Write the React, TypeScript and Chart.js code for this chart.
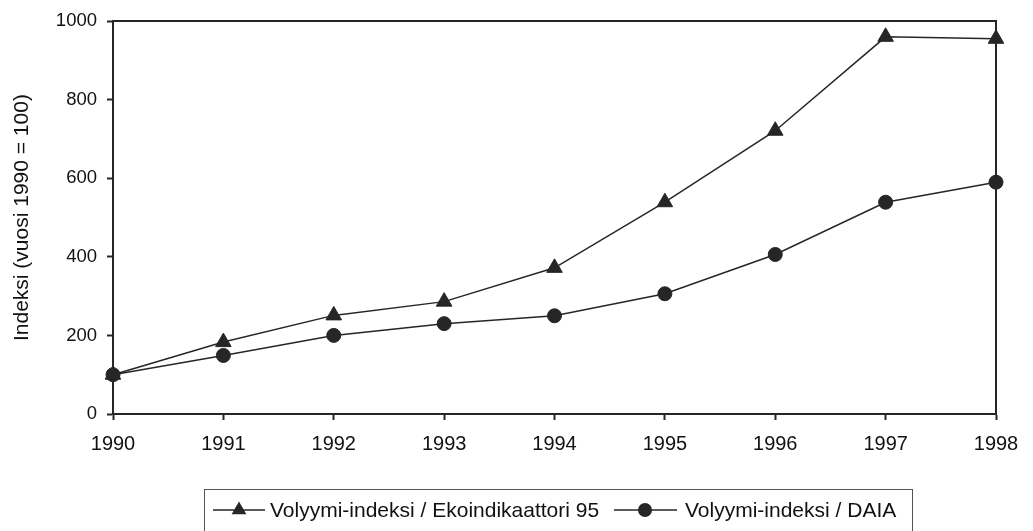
import React, { useEffect, useRef } from "react";
import { Chart, registerables } from "chart.js";

Chart.register(...registerables);

const years = ["1990", "1991", "1992", "1993", "1994", "1995", "1996", "1997", "1998"];
const ekoValues = [100, 183, 251, 286, 372, 539, 721, 960, 955];
const daiaValues = [100, 149, 200, 230, 250, 306, 406, 539, 590];
const ekoLabel = "Volyymi-indeksi / Ekoindikaattori 95";
const daiaLabel = "Volyymi-indeksi / DAIA";
const yTitle = "Indeksi (vuosi 1990 = 100)";

const FONT = "'Liberation Sans', Arial, sans-serif";
const INK = "#262626";

export default function App() {
  const ref = useRef<HTMLCanvasElement | null>(null);

  useEffect(() => {
    document.body.style.margin = "0";
    const canvas = ref.current;
    if (!canvas) return;

    const framePlugin = {
      id: "frame",
      afterDatasetsDraw(chart: any) {
        const { ctx, chartArea } = chart;
        ctx.save();
        ctx.strokeStyle = INK;
        ctx.lineWidth = 2;
        ctx.beginPath();
        ctx.moveTo(chartArea.left, chartArea.top);
        ctx.lineTo(chartArea.right, chartArea.top);
        ctx.lineTo(chartArea.right, chartArea.bottom);
        ctx.stroke();
        ctx.restore();
      },
    };

    const legendPlugin = {
      id: "customLegend",
      afterDraw(chart: any) {
        const ctx = chart.ctx as CanvasRenderingContext2D;
        ctx.save();
        ctx.strokeStyle = "#555";
        ctx.lineWidth = 1;
        ctx.strokeRect(204.5, 489.5, 708, 80);
        const cy = 510;
        ctx.strokeStyle = INK;
        ctx.fillStyle = INK;
        ctx.lineWidth = 1.5;
        // item 1
        ctx.beginPath();
        ctx.moveTo(213, cy);
        ctx.lineTo(265, cy);
        ctx.stroke();
        const r = 8.5;
        const tx = 239;
        const ty = cy;
        ctx.beginPath();
        ctx.moveTo(tx, ty - r);
        ctx.lineTo(tx - r * Math.sin(Math.PI / 3), ty + r / 2);
        ctx.lineTo(tx + r * Math.sin(Math.PI / 3), ty + r / 2);
        ctx.closePath();
        ctx.fill();
        // item 2
        ctx.beginPath();
        ctx.moveTo(614, cy);
        ctx.lineTo(677, cy);
        ctx.stroke();
        ctx.beginPath();
        ctx.arc(645, cy, 7, 0, Math.PI * 2);
        ctx.fill();
        ctx.font = `21px ${FONT}`;
        ctx.textBaseline = "middle";
        ctx.textAlign = "left";
        ctx.fillStyle = "#111";
        ctx.fillText(ekoLabel, 270, cy + 1);
        ctx.fillText(daiaLabel, 685, cy + 1);
        ctx.restore();
      },
    };

    const chart = new Chart(canvas, {
      type: "line",
      data: {
        labels: years,
        datasets: [
          {
            label: ekoLabel,
            data: ekoValues,
            borderColor: INK,
            backgroundColor: INK,
            borderWidth: 1.5,
            pointStyle: "triangle",
            pointRadius: 9,
            pointBorderWidth: 1,
            pointBackgroundColor: INK,
            pointBorderColor: INK,
            tension: 0,
          },
          {
            label: daiaLabel,
            data: daiaValues,
            borderColor: INK,
            backgroundColor: INK,
            borderWidth: 1.5,
            pointStyle: "circle",
            pointRadius: 7,
            pointBorderWidth: 1,
            pointBackgroundColor: INK,
            pointBorderColor: INK,
            tension: 0,
          },
        ],
      },
      options: {
        animation: false,
        responsive: true,
        maintainAspectRatio: false,
        layout: { padding: { top: 19, right: 37, left: 0, bottom: 77 } },
        plugins: {
          legend: { display: false },
          tooltip: { enabled: false },
        },
        scales: {
          x: {
            type: "category",
            offset: false,
            border: { display: true, color: INK, width: 2 },
            grid: {
              display: true,
              drawOnChartArea: false,
              drawTicks: true,
              tickLength: 6,
              tickColor: INK,
              tickWidth: 2,
            },
            ticks: {
              color: "#111",
              font: { family: FONT, size: 20 },
              padding: 12,
              maxRotation: 0,
              autoSkip: false,
            },
            afterFit(scale: any) {
              scale.height = 40;
            },
          },
          y: {
            min: 0,
            max: 1000,
            border: { display: true, color: INK, width: 2 },
            grid: {
              display: true,
              drawOnChartArea: false,
              drawTicks: true,
              tickLength: 6,
              tickColor: INK,
              tickWidth: 2,
            },
            ticks: {
              stepSize: 200,
              color: "#111",
              font: { family: FONT, size: 18.5 },
              padding: 10,
              callback: (v: any) => String(v),
            },
            title: {
              display: true,
              text: yTitle,
              color: "#111",
              font: { family: FONT, size: 21 },
              padding: { top: 10, bottom: 4 },
            },
            afterFit(scale: any) {
              scale.width = 113;
            },
          },
        },
      },
      plugins: [framePlugin, legendPlugin],
    });

    return () => chart.destroy();
  }, []);

  return (
    <div style={{ width: 1033, height: 531, position: "relative", background: "#fff" }}>
      <canvas ref={ref} />
    </div>
  );
}
